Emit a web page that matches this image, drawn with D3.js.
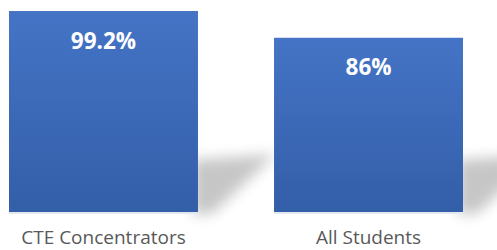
<!DOCTYPE html>
<html>
<head>
<meta charset="utf-8">
<script src="https://cdn.jsdelivr.net/npm/d3@7"></script>
<style>
  html, body { margin: 0; padding: 0; background: #fff; overflow: hidden; }
  svg { display: block; }
</style>
</head>
<body>
<div id="chart"></div>
<script>
const categories = ['CTE Concentrators', 'All Students'];
const values = [99.2, 86];
const valueLabels = ['99.2%', '86%'];

const width = 497;
const height = 250;

const svg = d3.select('#chart')
  .append('svg')
  .attr('width', width)
  .attr('height', height);

const defs = svg.append('defs');

const grad = defs.append('linearGradient')
  .attr('id', 'barGrad')
  .attr('x1', 0).attr('y1', 0)
  .attr('x2', 0).attr('y2', 1);
grad.append('stop').attr('offset', '0%').attr('stop-color', '#4574c6');
grad.append('stop').attr('offset', '100%').attr('stop-color', '#335ea8');

defs.append('filter')
  .attr('id', 'blur')
  .attr('x', '-50%').attr('y', '-50%')
  .attr('width', '200%').attr('height', '200%')
  .append('feGaussianBlur')
  .attr('stdDeviation', 7);

const x = d3.scaleBand()
  .domain(categories)
  .range([9, 463])
  .paddingInner(0.287)
  .paddingOuter(0);

const y = d3.scaleLinear()
  .domain([0, 100])
  .range([212, 9.4]);

// perspective shadow behind each bar
svg.append('g')
  .selectAll('path')
  .data(categories)
  .enter()
  .append('path')
  .attr('d', d => {
    const r = x(d) + x.bandwidth();
    const b = y(0);
    return `M${r - 6},${b + 2} L${r - 6},${b - 52} L${r + 78},${b - 58} L${r + 14},${b + 2} Z`;
  })
  .attr('fill', '#000')
  .attr('opacity', 0.22)
  .attr('filter', 'url(#blur)');

// faint reflection line under bars
svg.append('g')
  .selectAll('rect')
  .data(categories)
  .enter()
  .append('rect')
  .attr('x', d => x(d))
  .attr('y', y(0))
  .attr('width', x.bandwidth())
  .attr('height', 2)
  .attr('fill', '#e3e8f0');

svg.append('g')
  .selectAll('rect')
  .data(values)
  .enter()
  .append('rect')
  .attr('x', (d, i) => x(categories[i]))
  .attr('y', d => y(d))
  .attr('width', x.bandwidth())
  .attr('height', d => y(0) - y(d))
  .attr('fill', 'url(#barGrad)');

svg.append('g')
  .selectAll('text')
  .data(values)
  .enter()
  .append('text')
  .attr('x', (d, i) => x(categories[i]) + x.bandwidth() / 2)
  .attr('y', d => y(d) + 37.5)
  .attr('text-anchor', 'middle')
  .attr('fill', '#ffffff')
  .style('font-family', '"Open Sans", sans-serif')
  .style('font-weight', 'bold')
  .style('font-size', '22.5px')
  .text((d, i) => valueLabels[i]);

svg.append('g')
  .selectAll('text')
  .data(categories)
  .enter()
  .append('text')
  .attr('x', d => x(d) + x.bandwidth() / 2)
  .attr('y', 244)
  .attr('text-anchor', 'middle')
  .attr('fill', '#595959')
  .style('font-family', '"Open Sans", sans-serif')
  .style('font-size', '19px')
  .text(d => d);
</script>
</body>
</html>
